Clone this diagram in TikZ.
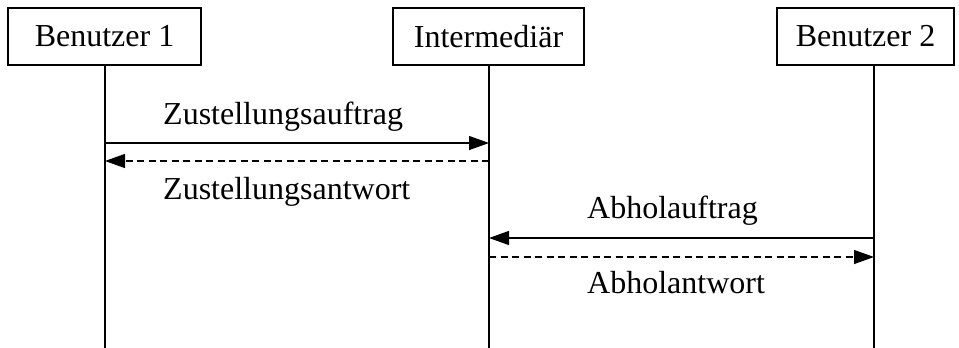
\documentclass[tikz,border=0pt]{standalone}
\usepackage{fontspec}
\setmainfont{Liberation Serif}
\usetikzlibrary{arrows.meta}
\begin{document}
\begin{tikzpicture}[x=1pt,y=-1pt,
  every node/.style={font=\fontsize{32}{38}\selectfont, inner sep=0pt},
  actor/.style={draw, line width=1.3pt, minimum height=57pt},
  lifeline/.style={line width=1.3pt},
  msg/.style={line width=1.3pt, -{Triangle[length=20pt,width=14pt]}},
  reply/.style={msg, dash pattern=on 7pt off 4.5pt},
  lbl/.style={anchor=base west}]
  \useasboundingbox (0,0) rectangle (959,348);

  % participants
  \node[actor, minimum width=193pt] (u1) at (104.5,36.5) {Benutzer 1};
  \node[actor, minimum width=191pt] (im) at (488.5,36.5) {Intermediär};
  \node[actor, minimum width=177pt] (u2) at (865.5,36.5) {Benutzer 2};

  % lifelines
  \coordinate (u1top) at (105,65);  \coordinate (u1bot) at (105,348);
  \coordinate (imtop) at (489,65);  \coordinate (imbot) at (489,348);
  \coordinate (u2top) at (874,65);  \coordinate (u2bot) at (874,348);
  \draw[lifeline] (u1top) -- (u1bot);
  \draw[lifeline] (imtop) -- (imbot);
  \draw[lifeline] (u2top) -- (u2bot);

  % message end points
  \coordinate (m1a) at (105,143); \coordinate (m1b) at (489,143);
  \coordinate (m2a) at (489,161); \coordinate (m2b) at (105,161);
  \coordinate (m3a) at (874,238); \coordinate (m3b) at (489,238);
  \coordinate (m4a) at (489,257); \coordinate (m4b) at (874,257);

  % messages
  \draw[msg]   (m1a) -- (m1b);
  \draw[reply] (m2a) -- (m2b);
  \draw[msg]   (m3a) -- (m3b);
  \draw[reply] (m4a) -- (m4b);

  % labels
  \node[lbl] (t1) at (163,124) {Zustellungsauftrag};
  \node[lbl] (t2) at (163,199) {Zustellungsantwort};
  \node[lbl] (t3) at (587,218) {Abholauftrag};
  \node[lbl] (t4) at (587,293) {Abholantwort};
\end{tikzpicture}
\end{document}
